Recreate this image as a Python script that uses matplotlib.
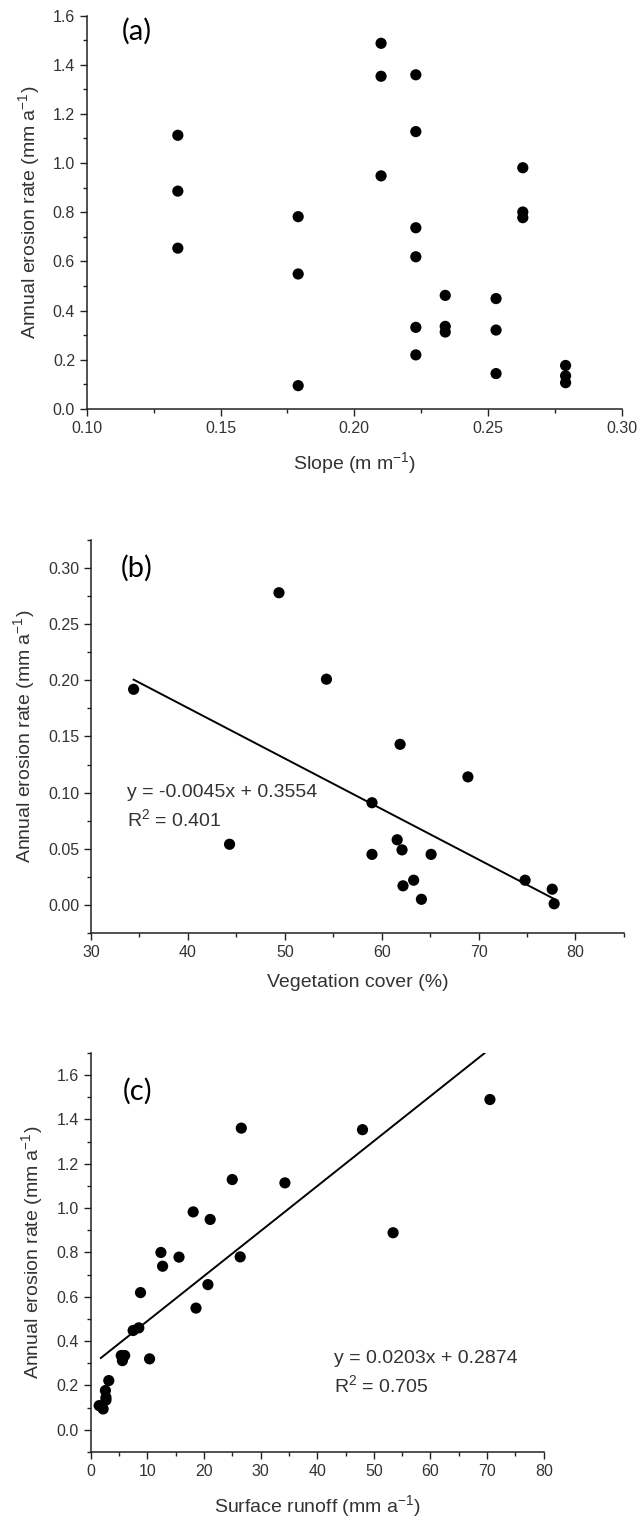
import matplotlib
matplotlib.use('Agg')
import matplotlib.pyplot as plt
import numpy as np
from matplotlib.ticker import MultipleLocator, FormatStrFormatter

plt.rcParams['font.family'] = ['Liberation Sans', 'DejaVu Sans']
plt.rcParams['mathtext.default'] = 'regular'

# (a) slope vs erosion rate
slope = [0.134, 0.134, 0.134,
         0.179, 0.179, 0.179,
         0.210, 0.210, 0.210,
         0.223, 0.223, 0.223, 0.223, 0.223, 0.223,
         0.234, 0.234, 0.234,
         0.253, 0.253, 0.253,
         0.263, 0.263, 0.263,
         0.279, 0.279, 0.279]
erosion_a = [1.113, 0.886, 0.654,
             0.782, 0.549, 0.095,
             1.487, 1.353, 0.948,
             1.359, 1.128, 0.737, 0.619, 0.332, 0.220,
             0.462, 0.336, 0.313,
             0.449, 0.321, 0.144,
             0.981, 0.801, 0.778,
             0.177, 0.135, 0.107]

# (b) vegetation cover vs erosion rate
veg = [34.4, 44.3, 49.4, 54.3, 59.0, 59.0, 61.6, 61.9, 62.1, 62.2,
       63.3, 64.1, 65.1, 68.9, 74.8, 77.6, 77.8]
erosion_b = [0.192, 0.054, 0.278, 0.201, 0.091, 0.045, 0.058, 0.143, 0.049, 0.017,
             0.022, 0.005, 0.045, 0.114, 0.022, 0.014, 0.001]
fit_b = (-0.0045, 0.3554)
fit_b_range = (34.4, 78.0)

# (c) surface runoff vs erosion rate
runoff = [1.5, 2.2, 2.6, 2.7, 2.7, 3.2, 5.4, 5.6, 6.0, 10.4,
          7.5, 8.5, 8.8, 12.4, 12.7, 15.6, 18.1, 18.6, 20.7, 21.1,
          25.0, 26.6, 26.4, 34.3, 48.0, 53.4, 70.5]
erosion_c = [0.109, 0.094, 0.177, 0.146, 0.134, 0.222, 0.335, 0.312, 0.335, 0.320,
             0.448, 0.460, 0.619, 0.800, 0.738, 0.779, 0.983, 0.549, 0.655, 0.949,
             1.129, 1.361, 0.780, 1.114, 1.354, 0.889, 1.490]
fit_c = (0.0203, 0.2874)
fit_c_range = (1.8, 69.6)

text_col = '#333333'

fig = plt.figure(figsize=(6.39, 15.21), dpi=100)
ax_a = fig.add_axes([0.136, 0.7311, 0.837, 0.2587])
ax_b = fig.add_axes([0.1424, 0.3866, 0.834, 0.2584])
ax_c = fig.add_axes([0.1419, 0.0454, 0.709, 0.2623])


def style(ax):
    for s in ['top', 'right']:
        ax.spines[s].set_visible(False)
    for s in ['left', 'bottom']:
        ax.spines[s].set_linewidth(1.1)
        ax.spines[s].set_color('#222222')
    ax.tick_params(which='major', direction='out', length=5, width=1.0,
                   labelsize=11.5, colors='#222222', labelcolor=text_col)
    ax.tick_params(which='minor', direction='out', length=3, width=1.0, colors='#222222')


def dots(ax, x, y):
    ax.scatter(x, y, s=65, color='black', edgecolors='none', zorder=3, clip_on=False)


# panel a
dots(ax_a, slope, erosion_a)
ax_a.set_xlim(0.10, 0.30)
ax_a.set_ylim(0.0, 1.6)
ax_a.xaxis.set_major_locator(MultipleLocator(0.05))
ax_a.xaxis.set_minor_locator(MultipleLocator(0.025))
ax_a.yaxis.set_major_locator(MultipleLocator(0.2))
ax_a.yaxis.set_minor_locator(MultipleLocator(0.1))
ax_a.xaxis.set_major_formatter(FormatStrFormatter('%.2f'))
ax_a.yaxis.set_major_formatter(FormatStrFormatter('%.1f'))
ax_a.set_xlabel('Slope (m m$^{-1}$)', fontsize=14, color=text_col, labelpad=10)
ax_a.set_ylabel('Annual erosion rate (mm a$^{-1}$)', fontsize=14, color=text_col, labelpad=8)
ax_a.text(0.1187, 1.535, '(a)', fontsize=21, family=['Lato', 'DejaVu Sans'],
          ha='center', va='center', color='black')
style(ax_a)

# panel b
dots(ax_b, veg, erosion_b)
xb = np.array(fit_b_range)
ax_b.plot(xb, fit_b[0] * xb + fit_b[1], color='black', lw=1.4)
ax_b.set_xlim(30, 85)
ax_b.set_ylim(-0.025, 0.325)
ax_b.xaxis.set_major_locator(MultipleLocator(10))
ax_b.xaxis.set_minor_locator(MultipleLocator(5))
ax_b.yaxis.set_major_locator(MultipleLocator(0.05))
ax_b.yaxis.set_minor_locator(MultipleLocator(0.025))
ax_b.set_yticks(np.arange(0, 0.301, 0.05))
ax_b.yaxis.set_major_formatter(FormatStrFormatter('%.2f'))
ax_b.set_xlabel('Vegetation cover (%)', fontsize=14, color=text_col, labelpad=10)
ax_b.set_ylabel('Annual erosion rate (mm a$^{-1}$)', fontsize=14, color=text_col, labelpad=8)
ax_b.text(34.7, 0.300, '(b)', fontsize=21, family=['Lato', 'DejaVu Sans'],
          ha='center', va='center', color='black')
ax_b.text(33.7, 0.1004, 'y = %.4fx + %.4f' % fit_b, fontsize=14, color=text_col,
          ha='left', va='center')
ax_b.text(33.7, 0.0766, 'R$^2$ = 0.401', fontsize=14, color=text_col, ha='left', va='center')
style(ax_b)

# panel c
dots(ax_c, runoff, erosion_c)
xc = np.array(fit_c_range)
ax_c.plot(xc, fit_c[0] * xc + fit_c[1], color='black', lw=1.4)
ax_c.set_xlim(0, 80)
ax_c.set_ylim(-0.1, 1.7)
ax_c.xaxis.set_major_locator(MultipleLocator(10))
ax_c.xaxis.set_minor_locator(MultipleLocator(5))
ax_c.set_yticks(np.arange(0, 1.61, 0.2))
ax_c.yaxis.set_minor_locator(MultipleLocator(0.1))
ax_c.yaxis.set_major_formatter(FormatStrFormatter('%.1f'))
ax_c.set_xlabel('Surface runoff (mm a$^{-1}$)', fontsize=14, color=text_col, labelpad=10)
ax_c.set_ylabel('Annual erosion rate (mm a$^{-1}$)', fontsize=14, color=text_col, labelpad=8)
ax_c.text(8.2, 1.528, '(c)', fontsize=21, family=['Lato', 'DejaVu Sans'],
          ha='center', va='center', color='black')
ax_c.text(42.9, 0.32, 'y = %.4fx + %.4f' % fit_c, fontsize=14, color=text_col,
          ha='left', va='center')
ax_c.text(42.9, 0.20, 'R$^2$ = 0.705', fontsize=14, color=text_col, ha='left', va='center')
style(ax_c)

fig.savefig('out.png', dpi=100)
